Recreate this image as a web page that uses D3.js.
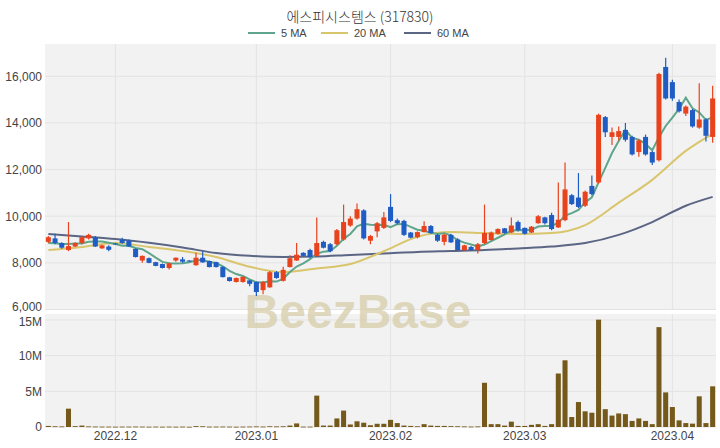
<!DOCTYPE html>
<html><head><meta charset="utf-8">
<script src="https://cdn.jsdelivr.net/npm/d3@7/dist/d3.min.js"></script>
<style>
html,body{margin:0;padding:0;background:#fff;}
svg{display:block;}
</style></head>
<body><svg id="c" width="720" height="448"></svg>
<script>
const title = "에스피시스템스 (317830)";
const dates = [
"2022-11-17","2022-11-18","2022-11-21","2022-11-22","2022-11-23","2022-11-24","2022-11-25","2022-11-28","2022-11-29","2022-11-30",
"2022-12-01","2022-12-02","2022-12-05","2022-12-06","2022-12-07","2022-12-08","2022-12-09","2022-12-12","2022-12-13","2022-12-14",
"2022-12-15","2022-12-16","2022-12-19","2022-12-20","2022-12-21","2022-12-22","2022-12-23","2022-12-26","2022-12-27","2022-12-28",
"2022-12-29","2023-01-02","2023-01-03","2023-01-04","2023-01-05","2023-01-06","2023-01-09","2023-01-10","2023-01-11","2023-01-12",
"2023-01-13","2023-01-16","2023-01-17","2023-01-18","2023-01-19","2023-01-20","2023-01-25","2023-01-26","2023-01-27","2023-01-30",
"2023-01-31","2023-02-01","2023-02-02","2023-02-03","2023-02-06","2023-02-07","2023-02-08","2023-02-09","2023-02-10","2023-02-13",
"2023-02-14","2023-02-15","2023-02-16","2023-02-17","2023-02-20","2023-02-21","2023-02-22","2023-02-23","2023-02-24","2023-02-27",
"2023-02-28","2023-03-02","2023-03-03","2023-03-06","2023-03-07","2023-03-08","2023-03-09","2023-03-10","2023-03-13","2023-03-14",
"2023-03-15","2023-03-16","2023-03-17","2023-03-20","2023-03-21","2023-03-22","2023-03-23","2023-03-24","2023-03-27","2023-03-28",
"2023-03-29","2023-03-30","2023-03-31","2023-04-03","2023-04-04","2023-04-05","2023-04-06","2023-04-07","2023-04-10","2023-04-11"];
const opens = [8900,9050,8850,8550,8700,8850,9050,9100,8620,8700, 8830,9000,8950,8600,8100,8200,8030,7950,7780,8100,
 8150,8100,7900,8220,8080,8030,7820,7380,7180,7180, 7250,7180,6830,6950,7600,7230,7820,8100,8430,8550,
 8300,8900,8800,8800,9000,9600,9900,10250,8950,9350, 9500,10400,9830,9800,9300,9100,9320,9580,9200,8900,
 9200,9000,8550,8680,8550,8850,8980,9250,9480,9300, 9750,9500,9300,9700,9950,10050,9520,9830,10900,10800,
 10450,11300,11450,14250,13400,13400,13700,13400,12750,13400, 12750,12400,16400,15750,14900,14400,14550,13800,14150,13400];
const highs = [9150,9250,8880,9750,8880,9150,9250,9150,8780,8750, 8860,9080,9000,8620,8320,8230,8050,7970,8000,8230,
 8250,8120,8430,8500,8100,8050,7850,7400,7370,7420, 7280,7200,7220,7650,7650,7830,8330,8850,8460,8600,
 9950,8950,8850,9450,10500,10000,10550,10300,9200,9750, 10180,10950,9900,9850,9320,9350,9780,9620,9250,9250,
 9250,9050,8780,8720,8850,10500,9350,9480,9500,9950, 9820,9520,9580,10050,9980,10150,11450,12300,10950,11850,
 11100,11750,14400,14300,13800,13850,14000,13450,13300,13500, 12800,16150,16800,15850,15000,14750,14600,15700,14200,15600];
const lows = [8850,8800,8600,8500,8680,8800,9000,8680,8600,8500, 8800,8820,8680,8230,8000,7980,7850,7760,7720,8050,
 8000,8060,7880,8000,7800,7800,7370,7200,7160,7150, 7000,6580,6650,6930,7320,7200,7800,8080,8280,8200,
 8280,8620,8460,8750,8950,9550,9850,9000,8800,9100, 9450,9750,9650,9150,9050,9050,9300,9250,8900,8750,
 8850,8520,8520,8520,8400,8800,8950,9220,9250,9280, 9350,9220,9280,9680,9650,9400,9500,9780,10480,10350,
 10400,10900,11400,13400,13050,13250,13200,12600,12550,12600, 12200,12350,15000,14950,14450,14300,13800,13750,13200,13150];
const closes = [9100,8850,8650,8720,8850,9100,9200,8700,8750,8560, 8820,8850,8700,8250,8300,8000,7870,7780,7980,8220,
 8050,8080,8220,8020,7820,7820,7390,7220,7350,7400, 7100,6750,7180,7600,7350,7700,8200,8350,8300,8250,
 8850,8650,8500,9400,9750,9900,10300,9050,9150,9700, 9950,9800,9700,9200,9080,9320,9580,9280,8950,9200,
 8880,8550,8750,8550,8800,9280,9300,9450,9280,9600, 9400,9250,9550,10000,9700,9450,9850,11150,10520,10400,
 11050,10950,14350,13600,13600,13650,13280,12650,13250,12650, 12300,16100,15050,15050,14500,14700,13850,14150,13450,15050];
// volume in millions of shares
const volumes = [0.15,0.1,0.08,2.57,0.12,0.2,0.08,0.06,0.05,0.05, 0.04,0.05,0.05,0.06,0.05,0.04,0.05,0.04,0.05,0.04,
 0.05,0.03,0.12,0.1,0.05,0.05,0.06,0.05,0.04,0.05, 0.06,0.08,0.06,0.1,0.08,0.1,0.2,0.5,0.05,0.05,
 4.4,0.2,0.2,1.2,2.3,0.35,0.8,0.6,0.25,0.45, 0.45,1.0,0.55,0.2,0.15,0.1,0.4,0.2,0.15,0.15,
 0.12,0.1,0.08,0.06,0.08,6.2,0.4,0.4,0.2,0.75, 0.15,0.15,0.3,0.4,0.15,0.4,7.5,9.35,1.4,3.5,
 2.2,2.0,15.05,2.5,1.6,1.9,1.8,0.85,1.2,0.85, 0.4,14.0,4.85,2.8,0.93,0.55,0.47,4.3,0.55,5.7];
// closes of the 4 sessions before the first visible one (for the 5-day average)
const priorCloses = [8900,8800,8750,8700];
// moving averages at these session indexes
const maIdx = [0,5,10,15,20,25,30,35,40,45,50,55,60,65,70,75,80,85,90,95,99];
const ma20 = [8550,8680,8850,8680,8510,8250,7830,7600,7760,7950,8500,9120,9320,9280,9240,9280,9620,10580,11560,12800,13530];
const ma60 = [9240,9130,9020,8860,8660,8420,8300,8250,8270,8340,8400,8470,8510,8550,8620,8700,8850,9200,9750,10450,10830];
const priceTicks = [6000,8000,10000,12000,14000,16000];
const volTicks = [0,5,10,15];
const monthTicks = ["2022-12-01","2023-01-02","2023-02-01","2023-03-02","2023-04-03"];
const monthLabels = ["2022.12","2023.01","2023.02","2023.03","2023.04"];
const legendNames = ["5 MA","20 MA","60 MA"];

const C = {up:"#e8431c", down:"#1f5cc4", ma5:"#5fa58c", ma20:"#d9c56c", ma60:"#5b6584",
  vol:"#74591a", bg:"#f2f2f2", grid:"#e3e3e3", text:"#444"};

const svg = d3.select("#c");
const L = 45, R = 716;
const pTop = 44, pBot = 310, vTop = 314, vBot = 427;

const x = d3.scaleBand().domain(dates).range([L, R]).paddingInner(0.25).paddingOuter(0.125);
const cx = d => x(d) + x.bandwidth()/2;
const y = d3.scaleLinear().domain([6000, 16000]).range([309.5, 76.3]);
const yv = d3.scaleLinear().domain([0, 15]).range([vBot, 320]);

// panels
svg.append("rect").attr("x",L).attr("y",pTop).attr("width",R-L).attr("height",pBot-pTop).attr("fill",C.bg);
svg.append("rect").attr("x",L).attr("y",vTop).attr("width",R-L).attr("height",vBot-vTop).attr("fill",C.bg);

// grids
const g = svg.append("g");
g.selectAll(".hp").data(priceTicks).join("line")
  .attr("x1",L).attr("x2",R).attr("y1",d=>y(d)).attr("y2",d=>y(d)).attr("stroke",C.grid).attr("stroke-width",1);
g.selectAll(".hv").data(volTicks).join("line")
  .attr("x1",L).attr("x2",R).attr("y1",d=>yv(d)).attr("y2",d=>yv(d)).attr("stroke",C.grid).attr("stroke-width",1);
monthTicks.forEach(m => {
  g.append("line").attr("x1",cx(m)).attr("x2",cx(m)).attr("y1",pTop).attr("y2",pBot).attr("stroke",C.grid);
  g.append("line").attr("x1",cx(m)).attr("x2",cx(m)).attr("y1",vTop).attr("y2",vBot).attr("stroke",C.grid);
});

// watermark
svg.append("text").attr("x",358).attr("y",328).attr("text-anchor","middle")
  .attr("font-family","'Liberation Sans', Arial, sans-serif").attr("font-weight","bold").attr("font-size",48)
  .attr("fill","#d6cda8").attr("fill-opacity",0.75).text("BeezBase");

// axes labels
const yAxis = d3.axisLeft(y).tickValues(priceTicks).tickFormat(d3.format(",")).tickSize(0).tickPadding(3);
svg.append("g").attr("transform",`translate(${L},0)`).call(yAxis)
  .call(a=>a.select(".domain").remove())
  .selectAll("text").attr("font-family","'Liberation Sans', Arial, sans-serif").attr("font-size",12).attr("fill",C.text)
  .attr("dy", d => d===6000 ? "0.1em" : "0.32em");
const vAxis = d3.axisLeft(yv).tickValues(volTicks).tickFormat(d => d===0 ? "0" : d+"M").tickSize(0).tickPadding(3);
svg.append("g").attr("transform",`translate(${L},0)`).call(vAxis)
  .call(a=>a.select(".domain").remove())
  .selectAll("text").attr("font-family","'Liberation Sans', Arial, sans-serif").attr("font-size",12).attr("fill",C.text)
  .attr("dy", d => d===15 ? "0.45em" : "0.32em");
const xAxis = d3.axisBottom(x).tickValues(monthTicks).tickFormat((d,i)=>monthLabels[i]).tickSize(0).tickPadding(4);
svg.append("g").attr("transform",`translate(0,${vBot})`).call(xAxis)
  .call(a=>a.select(".domain").remove())
  .selectAll("text").attr("font-family","'Liberation Sans', Arial, sans-serif").attr("font-size",12).attr("fill",C.text);

// data rows
const rows = dates.map((d,i)=>({d, o:opens[i], h:highs[i], l:lows[i], c:closes[i], v:volumes[i]}));

// volume bars
svg.append("g").selectAll("rect").data(rows).join("rect")
  .attr("x",r=>x(r.d)).attr("width",x.bandwidth())
  .attr("y",r=>yv(r.v)).attr("height",r=>Math.max(0.8, yv(0)-yv(r.v))).attr("fill",C.vol);

// moving averages
const allCloses = priorCloses.concat(closes);
const ma5 = closes.map((c,i)=> d3.mean(allCloses.slice(i, i+5)));
const line = d3.line().x(p=>cx(dates[p[0]])).y(p=>y(p[1])).curve(d3.curveMonotoneX);
const ml = svg.append("g").attr("fill","none").attr("stroke-width",2);
ml.append("path").attr("d", line(maIdx.map((k,i)=>[k, ma60[i]]))).attr("stroke",C.ma60);
ml.append("path").attr("d", line(maIdx.map((k,i)=>[k, ma20[i]]))).attr("stroke",C.ma20);
ml.append("path").attr("d", d3.line().x((v,i)=>cx(dates[i])).y(v=>y(v))(ma5)).attr("stroke",C.ma5);

// candles
const cg = svg.append("g");
cg.selectAll("line").data(rows).join("line")
  .attr("x1",r=>cx(r.d)).attr("x2",r=>cx(r.d)).attr("y1",r=>y(r.h)).attr("y2",r=>y(r.l))
  .attr("stroke",r=>r.c>=r.o?C.up:C.down).attr("stroke-width",1.2);
cg.selectAll("rect").data(rows).join("rect")
  .attr("x",r=>x(r.d)).attr("width",x.bandwidth())
  .attr("y",r=>y(Math.max(r.o,r.c))).attr("height",r=>Math.max(1, Math.abs(y(r.o)-y(r.c))))
  .attr("fill",r=>r.c>=r.o?C.up:C.down);

// title
svg.append("text").attr("x",360).attr("y",22).attr("text-anchor","middle")
  .attr("font-family","'Noto Sans CJK KR','Noto Sans',sans-serif").attr("font-size",14).attr("font-weight",300)
  .attr("fill","#333").text(title);

// legend
const lg = svg.append("g").attr("font-family","'Liberation Sans', Arial, sans-serif").attr("font-size",11).attr("fill",C.text);
const legendCols = [C.ma5, C.ma20, C.ma60];
const legendX = [248, 321, 404];
legendNames.forEach((n,i)=>{
  lg.append("line").attr("x1",legendX[i]).attr("x2",legendX[i]+27).attr("y1",33).attr("y2",33)
    .attr("stroke",legendCols[i]).attr("stroke-width",2);
  lg.append("text").attr("x",legendX[i]+33).attr("y",37).text(n);
});
</script></body></html>
